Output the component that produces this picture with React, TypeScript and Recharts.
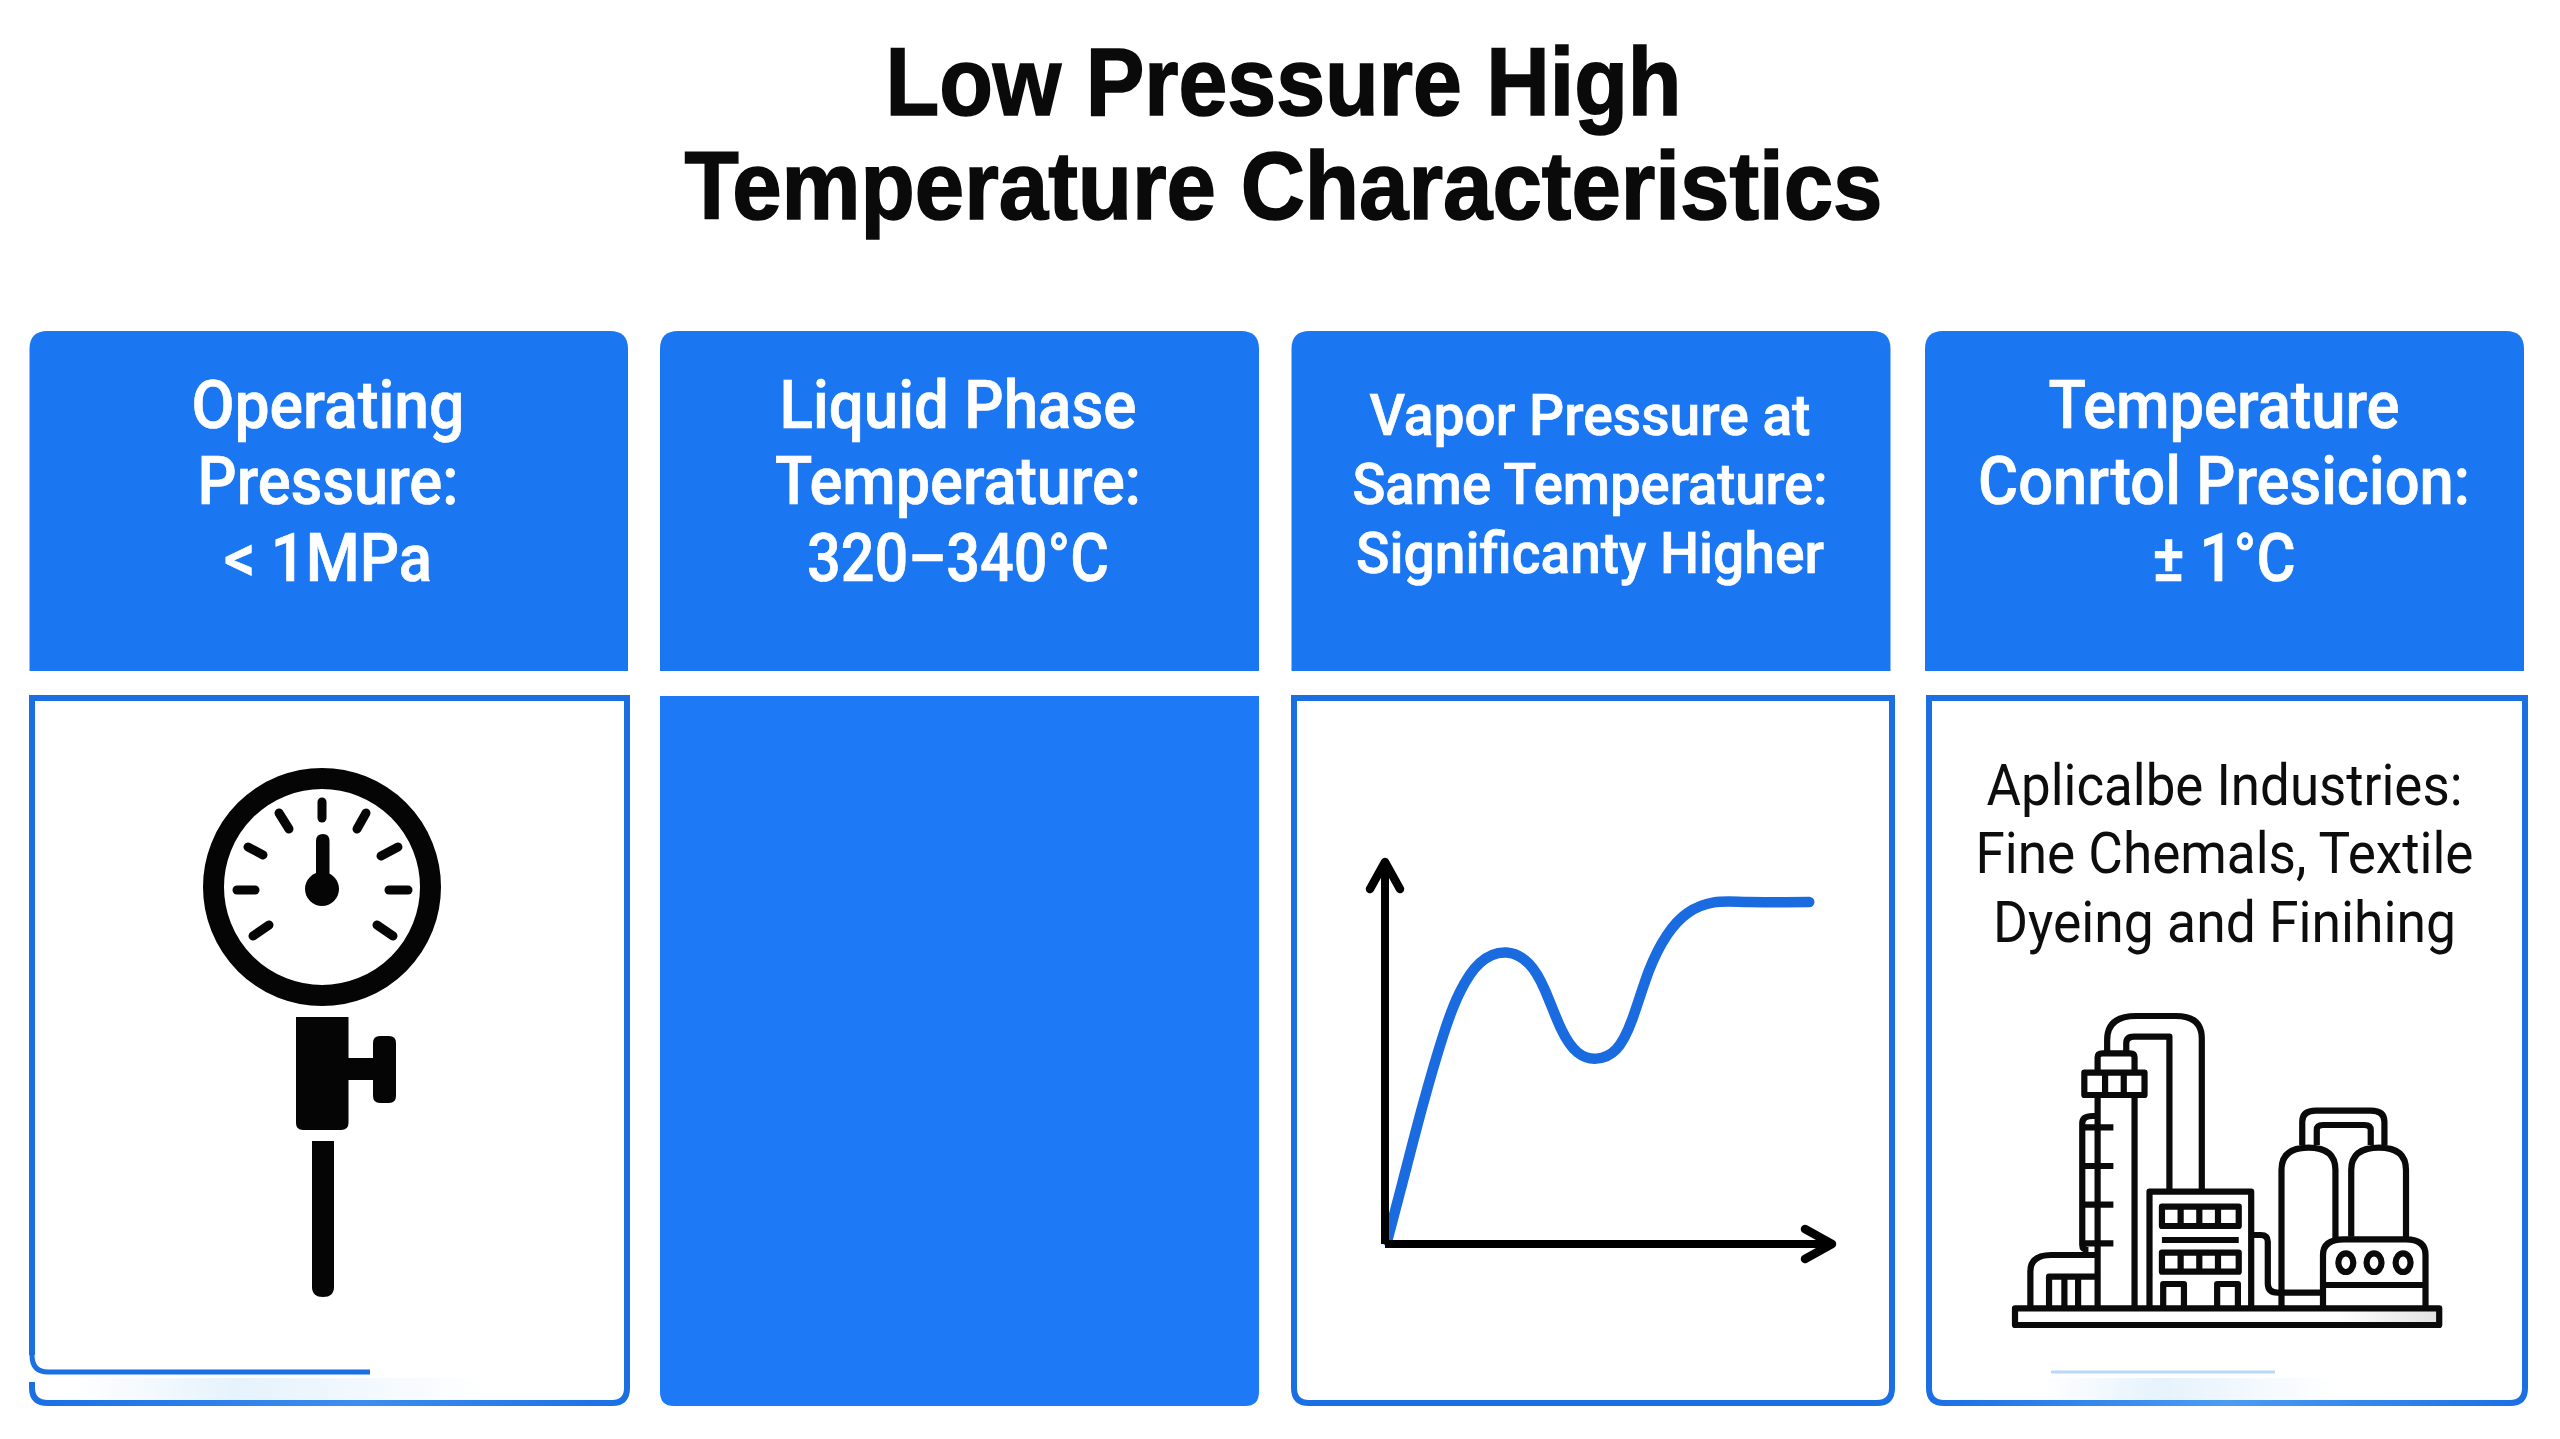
import { LineChart, Line, XAxis, YAxis } from "recharts";

const titleLines = ["Low Pressure High", "Temperature Characteristics"];

const curveX = [0.5, 3.9, 8.4, 13, 16.6, 21.2, 27.1, 32.1, 35.7, 39.3, 43, 47.2, 51.6, 55.2, 58.9, 62.9, 67.5, 73.4, 81.1, 94.7];
const curveY = [0.9, 16, 36.1, 54.5, 65.5, 73.4, 76.1, 73.2, 66.3, 56.2, 50, 48.4, 50.8, 58.7, 71.3, 80.6, 86.4, 89.2, 89.3, 89.3];
const curve = curveX.map((x, i) => ({ x, y: curveY[i] }));

const BLUE = "#1b76f2";
const EDGE = "#1a6fe3";

// [text, center x, baseline y, font size, width]
const headerText: [string, number, number, number, number][] = [
  ["Operating", 328, 428, 66, 273],
  ["Pressure:", 328, 504, 66, 261],
  ["< 1MPa", 328, 581, 66, 208],
  ["Liquid Phase", 958, 428, 66, 357],
  ["Temperature:", 958, 504, 66, 366],
  ["320–340°C", 958, 581, 66, 302],
  ["Vapor Pressure at", 1590, 435, 57, 441],
  ["Same Temperature:", 1590, 504, 57, 475],
  ["Significanty Higher", 1590, 573, 57, 468],
  ["Temperature", 2224, 428, 66, 351],
  ["Conrtol Presicion:", 2224, 504, 66, 492],
  ["± 1°C", 2224, 581, 66, 143],
];

const noteText: [string, number, number][] = [
  ["Aplicalbe Industries:", 805, 476],
  ["Fine Chemals, Textile", 873, 498],
  ["Dyeing and Finihing", 942, 463],
];

const gaugeTicks = [
  [322, 802, 322, 818],
  [279, 813, 289, 829],
  [248, 847, 263, 855],
  [237, 890, 255, 890],
  [253, 936, 269, 925],
  [366, 813, 357, 829],
  [398, 847, 381, 856],
  [408, 890, 389, 890],
  [393, 936, 377, 925],
];

// plant icon, traced in a 1566 x 1377 box that sits at (1910, 980)
const plantPaths = [
  "M253 985H1275V1035H253Z",
  "M452 345V985M541 345V985",
  "M452 278V232Q452 220 464 220H530Q541 220 541 232V278",
  "M420 278H565V345H420ZM470 278V345M515 278V345",
  "M475 215V180Q475 108 545 108H640Q703 108 703 175V632",
  "M521 215V190Q521 170 540 170H625V632",
  "M452 408H440Q415 408 415 430V795Q415 810 430 810",
  "M418 442H490M418 558H490M418 674H490M418 790H490",
  "M290 985V875Q290 825 340 825H450M335 985V890H450M372 895V985M405 895V985",
  "M577 985V635H822V985",
  "M607 680H792V738H607ZM652 680V738M697 680V738M742 680V738",
  "M607 780H792",
  "M607 818H792V875H607ZM652 818V875M697 818V875M742 818V875",
  "M610 985V912H660V985M740 985V912H790V985",
  "M825 765H845Q862 765 862 785V910Q862 938 885 938H995",
  "M895 985V570Q895 503 960 503Q1025 503 1025 570V775",
  "M1063 770V570Q1063 503 1130 503Q1195 503 1195 570V775",
  "M945 495V425Q945 392 978 392H1110Q1143 392 1143 425V495",
  "M980 495V450Q980 435 995 435H1095Q1110 435 1110 450V495",
  "M995 985V825Q995 778 1045 778H1195Q1242 778 1242 825V985M995 915H1242",
  "M1032 848A18 28 0 1 0 1068 848A18 28 0 1 0 1032 848",
  "M1100 848A18 28 0 1 0 1136 848A18 28 0 1 0 1100 848",
  "M1170 848A18 28 0 1 0 1206 848A18 28 0 1 0 1170 848",
];

function Page() {
  return (
    <svg width={2560} height={1439} style={{ position: "absolute", left: 0, top: 0, fontFamily: "Roboto" }}>
      <defs>
        {/* userSpace so the fade only lands on the bottom edges */}
        <linearGradient id="col4Bottom" gradientUnits="userSpaceOnUse" x1="1929" x2="2525" y1="0" y2="0">
          <stop offset="0" stopColor="#1a6fe3" />
          <stop offset="0.5" stopColor="#4b9cf2" />
          <stop offset="1" stopColor="#1a6fe3" />
        </linearGradient>
        <linearGradient id="col1Bottom" gradientUnits="userSpaceOnUse" x1="32" x2="627" y1="0" y2="0">
          <stop offset="0" stopColor="#1a6fe3" />
          <stop offset="0.55" stopColor="#3d8eee" />
          <stop offset="1" stopColor="#1a6fe3" />
        </linearGradient>
        <linearGradient id="smudge" x1="0" x2="1" y1="0" y2="0">
          <stop offset="0" stopColor="#e6f2fc" stopOpacity={0} />
          <stop offset="0.4" stopColor="#e6f2fc" />
          <stop offset="1" stopColor="#e6f2fc" stopOpacity={0} />
        </linearGradient>
        <linearGradient id="baseFade" x1="0" x2="1" y1="0" y2="0">
          <stop offset="0.5" stopColor="#ffffff" />
          <stop offset="1" stopColor="#e2e2e2" />
        </linearGradient>
      </defs>
      <rect width={2560} height={1439} fill="#ffffff" />
      {titleLines.map((t, i) => (
        <text key={t} x={1283.5} y={[115, 219][i]} textAnchor="middle" fontFamily="Liberation Sans" fontSize={97} fontWeight={700} fill="#0a0a0a"
          stroke="#0a0a0a" strokeWidth={1.6} textLength={[796, 1198][i]} lengthAdjust="spacingAndGlyphs">
          {t}
        </text>
      ))}

      {/* header cards */}
      {[[29.5, 628], [660, 1259], [1291.5, 1890.5], [1925, 2524]].map(([a, b]) => (
        <path key={a} d={`M${a} 671V349Q${a} 331 ${a + 18} 331H${b - 18}Q${b} 331 ${b} 349V671Z`} fill={BLUE} />
      ))}
      {headerText.map(([t, x, y, size, w]) => (
        <text key={t + x} x={x} y={y} textAnchor="middle" fontSize={size} fontWeight={500} fill="#ffffff"
          stroke="#ffffff" strokeWidth={0.7} textLength={w} lengthAdjust="spacingAndGlyphs">
          {t}
        </text>
      ))}

      {/* lower panels */}
      <rect x={70} y={1378} width={420} height={22} fill="url(#smudge)" />
      <path d="M32 1355V698H627V1388" fill="none" stroke={EDGE} strokeWidth={6} />
      <path d="M627 1388Q627 1403 612 1403H48Q32 1403 32 1388V1382" fill="none" stroke="url(#col1Bottom)" strokeWidth={6} />
      <path d="M32 1355Q32 1372 48 1372H370" fill="none" stroke={EDGE} strokeWidth={5} />
      <path d="M660 696H1259V1392Q1259 1406 1245 1406H674Q660 1406 660 1392Z" fill="#1d79f6" />
      <path d="M1294 698H1892V1388Q1892 1403 1877 1403H1309Q1294 1403 1294 1388Z" fill="none" stroke={EDGE} strokeWidth={6} />
      <rect x={2040} y={1378} width={300} height={22} fill="url(#smudge)" />
      <path d="M1929 1388V698H2525V1388" fill="none" stroke={EDGE} strokeWidth={6} />
      <path d="M2525 1388Q2525 1403 2510 1403H1944Q1929 1403 1929 1388" fill="none" stroke="url(#col4Bottom)" strokeWidth={6} />
      <path d="M2051 1372H2275" stroke="#bcd7f7" strokeWidth={3} />

      {/* gauge */}
      <circle cx={322} cy={887} r={108.5} fill="none" stroke="#050505" strokeWidth={21} />
      {gaugeTicks.map(([x1, y1, x2, y2]) => (
        <line key={`${x1}-${y1}`} x1={x1} y1={y1} x2={x2} y2={y2} stroke="#050505" strokeWidth={9} strokeLinecap="round" />
      ))}
      <path d="M316 889V841Q316 834 323 834Q329.5 834 329.5 841V889Z" fill="#050505" />
      <circle cx={322} cy={889} r={17} fill="#050505" />
      <path d="M296 1017H348.5V1058H373V1043Q373 1036 380 1036H389Q396 1036 396 1043V1096Q396 1103 389 1103H380Q373 1103 373 1096V1080H348.5V1123Q348.5 1130 341 1130H303Q296 1130 296 1123Z" fill="#050505" />
      <path d="M312 1141H334V1287Q334 1297 323 1297Q312 1297 312 1287Z" fill="#050505" />

      {/* note + plant */}
      {noteText.map(([t, y, w]) => (
        <text key={t} x={2224.5} y={y} textAnchor="middle" fontSize={57} fill="#0d0d0d" textLength={w} lengthAdjust="spacingAndGlyphs">
          {t}
        </text>
      ))}
      <svg x={1910} y={980} width={650} height={459} viewBox="0 0 1566 1377" preserveAspectRatio="none">
        <rect x={800} y={991} width={470} height={38} fill="url(#baseFade)" />
        {plantPaths.map((d) => (
          <path key={d} d={d} fill="none" stroke="#0a0a0a" strokeWidth={6.2} strokeLinejoin="round" vectorEffect="non-scaling-stroke" />
        ))}
      </svg>
    </svg>
  );
}

export default function App() {
  return (
    <div style={{ position: "absolute", left: 0, top: 0, width: 2560, height: 1439, overflow: "hidden" }}>
      <Page />
      <div style={{ position: "absolute", left: 1324, top: 820 }}>
        <LineChart width={540} height={460} data={curve} margin={{ top: 41, right: 31, bottom: 35, left: 60 }}>
          <defs>
            <marker id="arrowUp" markerUnits="userSpaceOnUse" markerWidth={60} markerHeight={60} refX={34} refY={30} orient="auto-start-reverse">
              <path d="M6 15L33 30L6 45" fill="none" stroke="#000" strokeWidth={8.5} strokeLinecap="round" strokeLinejoin="round" />
            </marker>
          </defs>
          <XAxis
            type="number"
            dataKey="x"
            domain={[0, 100]}
            height={1}
            tick={false}
            tickLine={false}
            axisLine={{ stroke: "#000", strokeWidth: 8, markerEnd: "url(#arrowUp)" }}
          />
          <YAxis
            type="number"
            domain={[0, 100]}
            width={1}
            tick={false}
            tickLine={false}
            axisLine={{ stroke: "#000", strokeWidth: 8, markerStart: "url(#arrowUp)" }}
          />
          <Line
            type="natural"
            dataKey="y"
            stroke="#1a6be0"
            strokeWidth={10.5}
            strokeLinecap="round"
            dot={false}
            activeDot={false}
            isAnimationActive={false}
          />
        </LineChart>
      </div>
    </div>
  );
}
